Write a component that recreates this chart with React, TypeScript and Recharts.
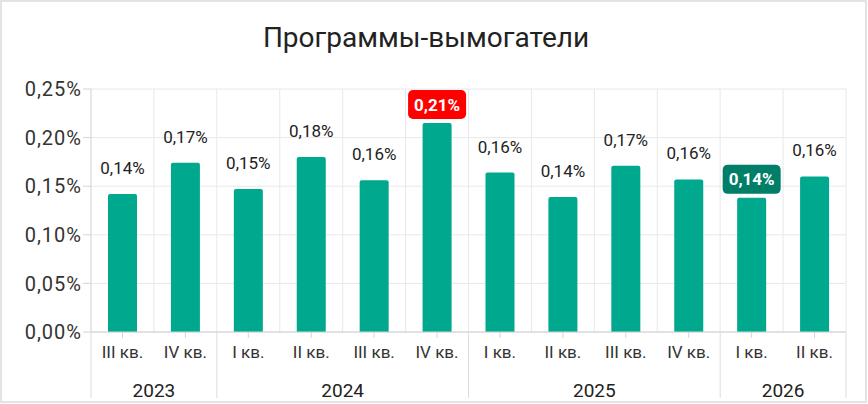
import React from "react";
import { BarChart, Bar, XAxis, YAxis, CartesianGrid, LabelList } from "recharts";

// quarters, years and values (values in %)
const QUARTERS = [
  "III кв.", "IV кв.",
  "I кв.", "II кв.", "III кв.", "IV кв.",
  "I кв.", "II кв.", "III кв.", "IV кв.",
  "I кв.", "II кв.",
];
const YEARS = [
  "2023", "2023",
  "2024", "2024", "2024", "2024",
  "2025", "2025", "2025", "2025",
  "2026", "2026",
];
const VALUES = [0.142, 0.174, 0.147, 0.18, 0.156, 0.215, 0.164, 0.139, 0.171, 0.157, 0.138, 0.16];
const Y_TICKS = [0, 0.05, 0.1, 0.15, 0.2, 0.25];

const TITLE = "Программы-вымогатели";

const W = 868;
const H = 404;
const MARGIN = { top: 89, right: 22, bottom: 0, left: 0 };
const Y_AXIS_W = 91;
const X_AXIS_H = 72;
const BAND = (W - MARGIN.left - MARGIN.right - Y_AXIS_W) / QUARTERS.length;

const BAR_COLOR = "#00A88E";
const MAX_COLOR = "#FF0000";
const MIN_COLOR = "#007E68";
const FONT = "Roboto, 'Noto Sans', sans-serif";

const MAX = Math.max(...VALUES);
const MIN = Math.min(...VALUES);

const data = QUARTERS.map((q, i) => ({ id: i, quarter: q, year: YEARS[i], value: VALUES[i] }));

const fmt = (v: number) => v.toFixed(2).replace(".", ",") + "%";

const XTick = (props: any) => {
  const { x, y, payload } = props;
  const i = payload.value as number;
  const year = YEARS[i];
  const first = i === 0 || YEARS[i - 1] !== year;
  const last = i === YEARS.length - 1;
  const count = YEARS.filter((yr) => yr === year).length;
  return (
    <g>
      <line x1={x} x2={x} y1={y} y2={y + 6} stroke="#d4d4d4" />
      <text x={x} y={y + 20} textAnchor="middle" dominantBaseline="central" fontSize={17} fill="#333">
        {QUARTERS[i]}
      </text>
      {first && (
        <>
          <line x1={x - BAND / 2} x2={x - BAND / 2} y1={y} y2={y + 66} stroke="#dcdcdc" />
          <text
            x={x - BAND / 2 + (count * BAND) / 2}
            y={y + 58}
            textAnchor="middle"
            dominantBaseline="central"
            fontSize={19}
            fill="#222"
          >
            {year}
          </text>
        </>
      )}
      {last && <line x1={x + BAND / 2} x2={x + BAND / 2} y1={y} y2={y + 66} stroke="#dcdcdc" />}
    </g>
  );
};

const ValueLabel = (props: any) => {
  const { x, y, width, value } = props;
  const cx = Number(x) + Number(width) / 2;
  const top = Number(y);
  const text = fmt(Number(value));
  if (value === MAX || value === MIN) {
    return (
      <g>
        <rect x={cx - 29} y={top - 33} width={58} height={29} rx={5} fill={value === MAX ? MAX_COLOR : MIN_COLOR} />
        <text x={cx} y={top - 18.5} textAnchor="middle" dominantBaseline="central" fontSize={17} fontWeight={700} fill="#fff">
          {text}
        </text>
      </g>
    );
  }
  return (
    <text x={cx} y={top - 26} textAnchor="middle" dominantBaseline="central" fontSize={17} fill="#222">
      {text}
    </text>
  );
};

export default function App() {
  return (
    <div style={{ position: "absolute", left: 0, top: 0, width: W, height: H, fontFamily: FONT, background: "#fff" }}>
      <div
        style={{
          position: "absolute",
          left: 0,
          top: 0,
          width: W - 1,
          height: H - 1,
          boxSizing: "border-box",
          border: "2px solid #e3e3e3",
        }}
      />
      <div
        style={{
          position: "absolute",
          left: 0,
          top: 23,
          width: 852,
          textAlign: "center",
          fontSize: 28,
          lineHeight: "29px",
          color: "#222",
        }}
      >
        {TITLE}
      </div>
      <div style={{ position: "absolute", left: 0, top: 0 }}>
        <BarChart width={W} height={H} data={data} margin={MARGIN}>
          <CartesianGrid
            stroke="#e8e8e8"
            verticalCoordinatesGenerator={({ offset }: any) =>
              QUARTERS.map((_, i) => offset.left + i * BAND).concat(offset.left + offset.width)
            }
          />
          <XAxis
            dataKey="id"
            type="category"
            interval={0}
            height={X_AXIS_H}
            tickLine={false}
            tickSize={0}
            tickMargin={0}
            axisLine={{ stroke: "#d0d0d0" }}
            tick={(p: any) => <XTick {...p} />}
          />
          <YAxis
            domain={[0, 0.25]}
            ticks={Y_TICKS}
            width={Y_AXIS_W}
            tickFormatter={fmt}
            tickSize={8}
            tickMargin={1}
            tick={{ fontSize: 20, fill: "#333", letterSpacing: 1 }}
            axisLine={{ stroke: "#dcdcdc" }}
            tickLine={{ stroke: "#d4d4d4" }}
          />
          <Bar dataKey="value" fill={BAR_COLOR} barSize={29} radius={[2, 2, 0, 0]} isAnimationActive={false}>
            <LabelList dataKey="value" content={(p: any) => <ValueLabel {...p} />} />
          </Bar>
        </BarChart>
      </div>
    </div>
  );
}
